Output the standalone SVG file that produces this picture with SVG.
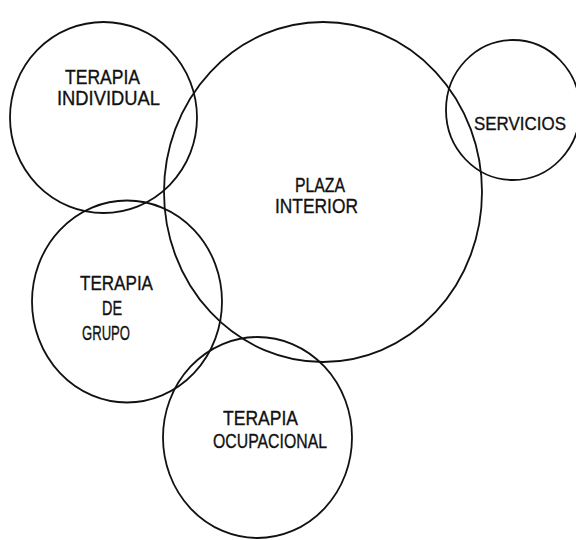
<svg xmlns="http://www.w3.org/2000/svg" width="576" height="540" viewBox="0 0 576 540">
<style>
.c{fill:none;stroke:#111;stroke-width:1.8}
.t{font-family:"Liberation Sans","DejaVu Sans",sans-serif;font-size:21px;fill:#111;stroke:#111;stroke-width:0.35}
</style>
<rect width="576" height="540" fill="#fff"/>
<g id="plaza"><ellipse class="c" cx="323" cy="192" rx="159" ry="170"/>
<text class="t" x="295" y="192" textLength="50" lengthAdjust="spacingAndGlyphs">PLAZA</text>
<text class="t" x="275" y="213" textLength="83" lengthAdjust="spacingAndGlyphs">INTERIOR</text></g>
<g id="individual"><ellipse class="c" cx="103.5" cy="117.5" rx="93.5" ry="95.5"/>
<text class="t" x="65" y="84" textLength="75" lengthAdjust="spacingAndGlyphs">TERAPIA</text>
<text class="t" x="57" y="105" textLength="103" lengthAdjust="spacingAndGlyphs">INDIVIDUAL</text></g>
<g id="servicios"><ellipse class="c" cx="513" cy="110" rx="67" ry="70"/>
<text class="t" x="474" y="130" style="font-size:19px" textLength="92" lengthAdjust="spacingAndGlyphs">SERVICIOS</text></g>
<g id="grupo"><ellipse class="c" cx="127" cy="301.5" rx="95" ry="101"/>
<text class="t" x="80" y="290" textLength="73" lengthAdjust="spacingAndGlyphs">TERAPIA</text>
<text class="t" x="102" y="315" textLength="20" lengthAdjust="spacingAndGlyphs">DE</text>
<text class="t" x="82" y="340" textLength="48" lengthAdjust="spacingAndGlyphs">GRUPO</text></g>
<g id="ocupacional"><ellipse class="c" cx="257.5" cy="437.5" rx="94.5" ry="100.5"/>
<text class="t" x="223" y="425" textLength="75" lengthAdjust="spacingAndGlyphs">TERAPIA</text>
<text class="t" x="213" y="448" textLength="114" lengthAdjust="spacingAndGlyphs">OCUPACIONAL</text></g>
<g id="connectors"></g>
</svg>
